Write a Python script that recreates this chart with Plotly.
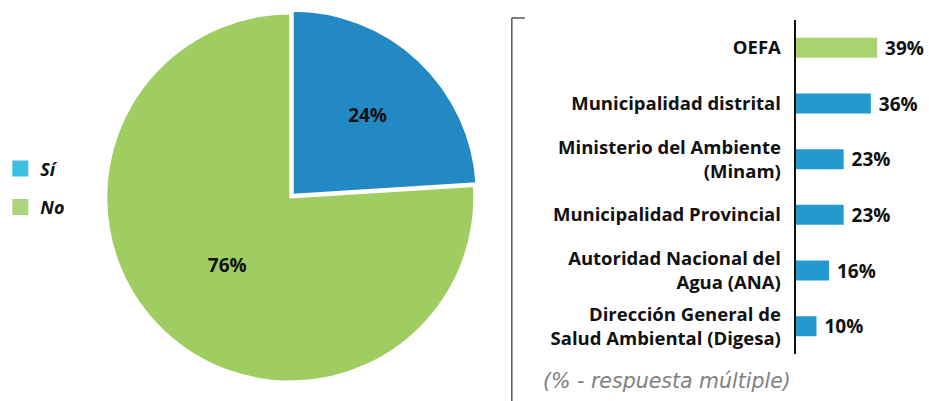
import plotly.graph_objects as go

# ---- data ----
pie_labels = ["Sí", "No"]
pie_values = [24, 76]
pie_colors = ["#2289c5", "#9fcd62"]
legend_colors = ["#3cbfe0", "#abd57c"]

bar_categories = [
    "OEFA",
    "Municipalidad distrital",
    "Ministerio del Ambiente<br>(Minam)",
    "Municipalidad Provincial",
    "Autoridad Nacional del<br>Agua (ANA)",
    "Dirección General de<br>Salud Ambiental (Digesa)",
]
bar_values = [39, 36, 23, 23, 16, 10]
bar_colors = ["#a8d36e", "#2399cf", "#2399cf", "#2399cf", "#2399cf", "#2399cf"]

FONT = "Open Sans"
W, H = 929, 401

fig = go.Figure()

fig.add_trace(go.Pie(
    labels=pie_labels, values=pie_values,
    sort=False, direction="clockwise", rotation=0,
    pull=[0.02, 0],
    marker=dict(colors=pie_colors, line=dict(color="white", width=2)),
    textinfo="percent", texttemplate="%{percent:.0%}",
    insidetextorientation="horizontal",
    textfont=dict(family=FONT, size=19, color="#111", weight="bold"),
    domain=dict(x=[99 / W, 476 / W], y=[(H - 386) / H, (H - 9) / H]),
    showlegend=False, hoverinfo="label+percent",
))

fig.add_trace(go.Bar(
    x=bar_values, y=bar_categories, orientation="h",
    marker=dict(color=bar_colors, line=dict(width=0)),
    text=[f" {v}%" for v in bar_values], textposition="outside",
    constraintext="none",
    textfont=dict(family=FONT, size=19, color="#111", weight="bold"),
    cliponaxis=False, showlegend=False, width=0.36,
    xaxis="x", yaxis="y",
))

# legend-only entries
for lab, col in zip(pie_labels, legend_colors):
    fig.add_trace(go.Scatter(
        x=[None], y=[None], mode="markers", name=lab,
        marker=dict(symbol="square", size=16, color=col),
        legendgroup=lab, xaxis="x", yaxis="y", showlegend=True,
    ))

fig.update_layout(
    width=W, height=H,
    margin=dict(l=0, r=0, t=0, b=0),
    paper_bgcolor="white", plot_bgcolor="white",
    font=dict(family=FONT, color="#111"),
    xaxis=dict(type="linear", domain=[795 / W, 1], range=[0, (W - 795) / 2.1],
               showgrid=False, zeroline=False, showticklabels=False,
               showline=False, ticks=""),
    yaxis=dict(type="category", categoryorder="array", categoryarray=bar_categories,
               domain=[(H - 354) / H, (H - 20) / H], autorange="reversed",
               showgrid=False, zeroline=False, showline=True,
               linecolor="#111", linewidth=2, ticks="",
               ticklabelstandoff=9,
               tickfont=dict(family=FONT, size=18.5, color="#111", weight="bold")),
    legend=dict(x=-0.004, y=0.625, xanchor="left", yanchor="top",
                font=dict(family=FONT, size=18, color="#111", weight="bold", style="italic"),
                tracegroupgap=12, traceorder="grouped", bgcolor="rgba(0,0,0,0)"),
    shapes=[
        dict(type="line", xref="paper", yref="paper",
             x0=510 / W, x1=510 / W, y0=0, y1=(H - 18) / H,
             line=dict(color="#555", width=1.5)),
        dict(type="line", xref="paper", yref="paper",
             x0=510 / W, x1=523 / W, y0=(H - 18) / H, y1=(H - 18) / H,
             line=dict(color="#555", width=1.5)),
    ],
    annotations=[
        dict(text="(% - respuesta múltiple)", xref="paper", yref="paper",
             x=666 / W, y=(H - 381) / H, xanchor="center", yanchor="middle",
             showarrow=False,
             font=dict(family="DejaVu Sans", size=20.5, color="#808080", style="italic")),
    ],
)

fig.write_html("out.html", config={"displayModeBar": False},
               post_script="document.body.style.margin='0px';")
